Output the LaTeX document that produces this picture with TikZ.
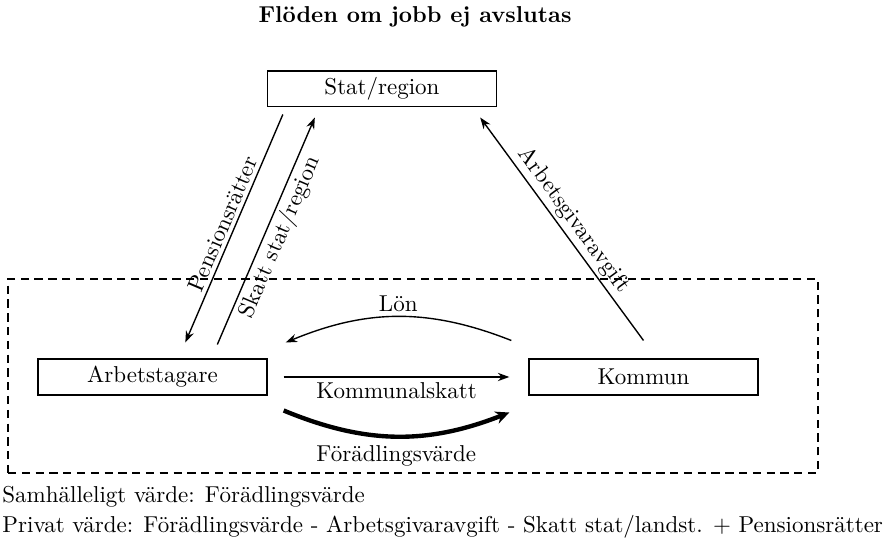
\documentclass[tikz,border=0pt]{standalone}
\usetikzlibrary{arrows.meta,calc}
\begin{document}
\begin{tikzpicture}[x=0.435pt,y=-0.435pt,
  box/.style={draw, line width=0.6pt, minimum width=99.6pt, minimum height=15.5pt, inner sep=0pt},
  flow/.style={line width=0.6pt, -{Stealth[length=5pt,width=3.6pt]}},
  bigflow/.style={line width=1.9pt, -{Stealth[length=6pt,width=5.5pt]}},
  zone/.style={draw, line width=0.6pt, dash pattern=on 3.6pt off 2.4pt}]
\useasboundingbox (0,0) rectangle (887,553);
\node[font=\bfseries] (title) at (415,17) {Flöden om jobb ej avslutas};
\node[box] (stat) at (382,89) {Stat/region};
\node[box] (arb) at (152.5,377) {Arbetstagare};
\node[box] (kom) at (643.5,377) {Kommun};
\node[zone, minimum width=352.35pt, minimum height=84.4pt, inner sep=0pt] (area) at (413,376) {};
\draw[flow] ($(stat.south west)+(16,7)$) -- node[midway, sloped, above, inner sep=1.5pt] {Pensionsrätter} ($(arb.north west)+(148,-16)$);
\draw[flow] ($(arb.north west)+(180,-14)$) -- node[midway, sloped, below, inner sep=1.5pt] {Skatt stat/region} ($(stat.south west)+(48,10)$);
\draw[flow] ($(kom.north)+(0,-18)$) -- node[midway, sloped, above, inner sep=1.5pt] {Arbetsgivaravgift} ($(stat.south east)+(-17,10)$);
\draw[flow] ($(kom.north west)+(-17,-18)$) to[bend right=22] node[above, inner sep=2pt] {Lön} ($(arb.north east)+(18,-16)$);
\draw[flow] ($(arb.east)+(16,0)$) -- node[below, inner sep=2pt] {Kommunalskatt} ($(kom.west)+(-19,0)$);
\draw[bigflow] ($(arb.south east)+(16,15)$) to[bend right=22] node[below, inner sep=3pt] {Förädlingsvärde} ($(kom.south west)+(-19,17)$);
\node[anchor=west, inner sep=0pt] (samh) at (2,497) {Samhälleligt värde: Förädlingsvärde};
\node[anchor=west, inner sep=0pt] (priv) at (2,527) {Privat värde: Förädlingsvärde - Arbetsgivaravgift - Skatt stat/landst. + Pensionsrätter};
\end{tikzpicture}
\end{document}
